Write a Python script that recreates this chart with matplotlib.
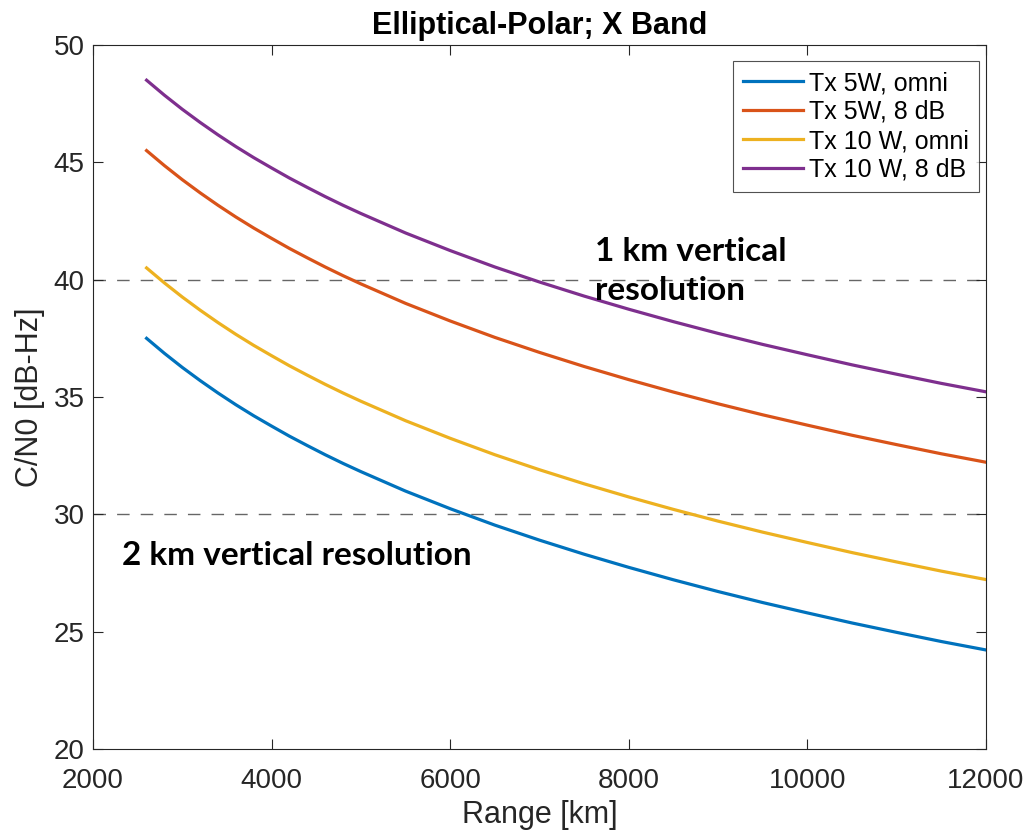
import numpy as np
import matplotlib
matplotlib.use("Agg")
import matplotlib.pyplot as plt

# range points [km] and C/N0 values [dB-Hz]
range_km = [2600, 2800, 3000, 3200, 3400, 3600, 3800, 4000, 4200, 4400, 4600, 4800,
            5000, 5500, 6000, 6500, 7000, 7500, 8000, 8500, 9000, 9500, 10000,
            10500, 11000, 11500, 12000]
tx5_omni = [37.50, 36.86, 36.26, 35.70, 35.17, 34.67, 34.20, 33.76, 33.33, 32.93, 32.54, 32.17,
            31.82, 30.99, 30.24, 29.54, 28.90, 28.30, 27.74, 27.21, 26.71, 26.24, 25.80,
            25.37, 24.97, 24.58, 24.22]
tx5_8db = [45.50, 44.86, 44.26, 43.70, 43.17, 42.67, 42.20, 41.76, 41.33, 40.93, 40.54, 40.17,
           39.82, 38.99, 38.24, 37.54, 36.90, 36.30, 35.74, 35.21, 34.71, 34.24, 33.80,
           33.37, 32.97, 32.58, 32.22]
tx10_omni = [40.50, 39.86, 39.26, 38.70, 38.17, 37.67, 37.20, 36.76, 36.33, 35.93, 35.54, 35.17,
             34.82, 33.99, 33.24, 32.54, 31.90, 31.30, 30.74, 30.21, 29.71, 29.24, 28.80,
             28.37, 27.97, 27.58, 27.22]
tx10_8db = [48.50, 47.86, 47.26, 46.70, 46.17, 45.67, 45.20, 44.76, 44.33, 43.93, 43.54, 43.17,
            42.82, 41.99, 41.24, 40.54, 39.90, 39.30, 38.74, 38.21, 37.71, 37.24, 36.80,
            36.37, 35.97, 35.58, 35.22]

labels = ["Tx 5W, omni", "Tx 5W, 8 dB", "Tx 10 W, omni", "Tx 10 W, 8 dB"]
colors = ["#0072BD", "#D95319", "#EDB120", "#7E2F8E"]
thresholds = [40, 30]

plt.rcParams["font.family"] = ["Liberation Sans", "DejaVu Sans"]

fig = plt.figure(figsize=(10.26, 8.32), dpi=100)
ax = fig.add_axes([93 / 1026, 1 - 749 / 832, (986 - 93) / 1026, (749 - 45) / 832])

for ys, lab, c in zip([tx5_omni, tx5_8db, tx10_omni, tx10_8db], labels, colors):
    ax.plot(range_km, ys, color=c, linewidth=2.3, label=lab)

for t in thresholds:
    ax.axhline(t, color="#666666", linewidth=1.0, linestyle=(0, (9, 8)), zorder=1)

ax.set_xlim(2000, 12000)
ax.set_ylim(20, 50)
ax.set_xticks(np.arange(2000, 12001, 2000))
ax.set_yticks(np.arange(20, 51, 5))
ax.tick_params(direction="in", length=7, width=0.8, labelsize=20,
               top=True, right=True, colors="#262626")
ax.tick_params(axis="x", pad=14)
ax.tick_params(axis="y", pad=6)
for s in ax.spines.values():
    s.set_color("#262626")
    s.set_linewidth(0.8)

ax.set_xlabel("Range [km]", fontsize=22, color="#262626", labelpad=4)
ax.set_ylabel("C/N0 [dB-Hz]", fontsize=22, color="#262626", labelpad=6)
ax.set_title("Elliptical-Polar; X Band", fontsize=22, fontweight="bold", pad=8)

leg = ax.legend(loc="upper right", bbox_to_anchor=(979 / 1026, 1 - 61 / 832),
                bbox_transform=fig.transFigure, borderaxespad=0,
                fontsize=18, frameon=True, fancybox=False,
                edgecolor="#262626", handlelength=2.4, handletextpad=0.25,
                borderpad=0.4, labelspacing=0.2)
leg.get_frame().set_linewidth(0.8)

ax.text(7620, 40.37, "1 km vertical\nresolution", fontsize=24, fontweight="bold",
        family=["Lato", "DejaVu Sans"], va="center", ha="left", linespacing=1.38)
ax.text(2320, 28.25, "2 km vertical resolution", fontsize=24, fontweight="bold",
        family=["Lato", "DejaVu Sans"], va="center", ha="left")

fig.savefig("out.png", dpi=100)
